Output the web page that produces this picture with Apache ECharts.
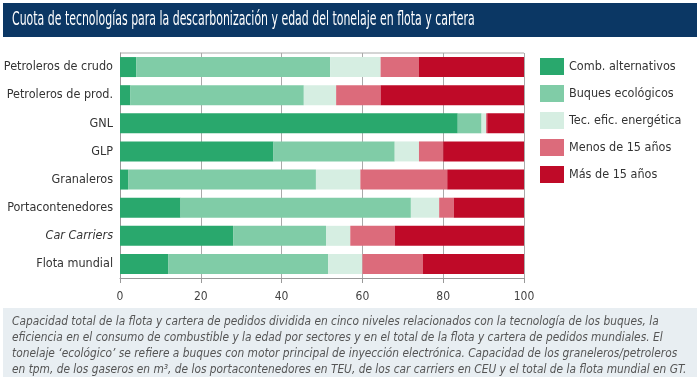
<!DOCTYPE html>
<html>
<head>
<meta charset="utf-8">
<script src="https://cdn.jsdelivr.net/npm/echarts@6/dist/echarts.min.js"></script>
<style>
  html, body { margin: 0; padding: 0; background: #fff; }
  #chart { width: 700px; height: 377px; }
</style>
</head>
<body>
<div id="chart"></div>
<script>
const categories = ['Petroleros de crudo', 'Petroleros de prod.', 'GNL', 'GLP', 'Granaleros', 'Portacontenedores', 'Car Carriers', 'Flota mundial'];
const combAlternativos = [4, 2.6, 83.6, 38, 2, 15, 28, 12];
const buquesEcologicos = [48, 42.9, 5.9, 30, 46.5, 57, 23, 39.5];
const tecEficEnergetica = [12.5, 8, 1.1, 6, 11, 7, 6, 8.5];
const menos15 = [9.5, 11, 0.3, 6, 21.5, 3.6, 11, 15];
const mas15 = [26, 35.5, 9.1, 20, 19, 17.4, 32, 25];
const xTicks = [0, 20, 40, 60, 80, 100];

const font = '"DejaVu Sans Condensed", "Roboto", sans-serif';
const colorList = ['#29a86d', '#80cca7', '#d6eee2', '#dc6b7b', '#bf0a28'];

const chart = echarts.init(document.getElementById('chart'));

function serie(name, data) {
    return {
        name: name,
        type: 'bar',
        stack: 'total',
        barWidth: 20,
        data: data
    };
}

const option = {
    animation: false,
    color: colorList,
    textStyle: { fontFamily: font },
    grid: { left: 120, right: 176, top: 53, bottom: 99, containLabel: false, outerBoundsMode: 'none' },
    legend: {
        orient: 'vertical',
        left: 535,
        top: 53,
        itemWidth: 24,
        itemHeight: 17,
        itemGap: 10,
        icon: 'rect',
        textStyle: { fontFamily: font, fontSize: 12.5, color: '#333' },
        data: ['Comb. alternativos', 'Buques ecológicos', 'Tec. efic. energética', 'Menos de 15 años', 'Más de 15 años']
    },
    xAxis: {
        type: 'value',
        min: 0,
        max: 100,
        interval: 20,
        axisLine: { show: true, lineStyle: { color: '#999', width: 1 } },
        axisTick: { show: true, length: 5, lineStyle: { color: '#999' } },
        splitLine: { show: true, lineStyle: { color: '#aaa', width: 1 } },
        axisLabel: {
            color: '#444', fontSize: 12, margin: 13, fontFamily: font,
            formatter: v => xTicks.includes(v) ? String(v) : ''
        }
    },
    yAxis: {
        type: 'category',
        inverse: true,
        data: categories,
        axisLine: { show: true, lineStyle: { color: '#999' } },
        axisTick: { show: false },
        axisLabel: {
            color: '#333', fontSize: 12.5, margin: 7, fontFamily: font,
            formatter: v => v === 'Car Carriers' ? '{it|' + v + '}' : v,
            rich: { it: { fontStyle: 'italic', fontSize: 12.5, color: '#333', fontFamily: font } }
        }
    },
    graphic: [
        // borde superior del área del gráfico
        { type: 'line', shape: { x1: 120, y1: 53, x2: 524, y2: 53 }, style: { stroke: '#aaa', lineWidth: 1 }, z: 0 },
        { type: 'rect', shape: { x: 3, y: 3, width: 694, height: 34 }, style: { fill: '#0b3764' } },
        {
            type: 'text', x: 12, y: 20, scaleX: 0.64,
            style: {
                text: 'Cuota de tecnologías para la descarbonización y edad del tonelaje en flota y cartera',
                fill: '#fff', font: '19px ' + font, verticalAlign: 'middle'
            }
        },
        { type: 'rect', shape: { x: 3, y: 308, width: 694, height: 69 }, style: { fill: '#e8eef2' } },
        {
            type: 'text', x: 12, y: 314, scaleX: 0.945,
            style: {
                text: 'Capacidad total de la flota y cartera de pedidos dividida en cinco niveles relacionados con la tecnología de los buques, la\n' +
                    'eficiencia en el consumo de combustible y la edad por sectores y en el total de la flota y cartera de pedidos mundiales. El\n' +
                    'tonelaje ‘ecológico’ se refiere a buques con motor principal de inyección electrónica. Capacidad de los graneleros/petroleros\n' +
                    'en tpm, de los gaseros en m³, de los portacontenedores en TEU, de los car carriers en CEU y el total de la flota mundial en GT.',
                fill: '#555',
                font: 'italic 12.5px ' + font,
                lineHeight: 16
            }
        }
    ],
    series: [
        serie('Comb. alternativos', combAlternativos),
        serie('Buques ecológicos', buquesEcologicos),
        serie('Tec. efic. energética', tecEficEnergetica),
        serie('Menos de 15 años', menos15),
        serie('Más de 15 años', mas15)
    ]
};

chart.setOption(option);
</script>
</body>
</html>
